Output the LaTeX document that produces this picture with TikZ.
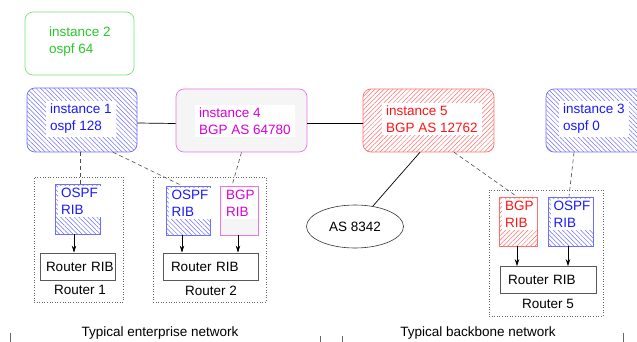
\documentclass[tikz,border=0pt]{standalone}
\usepackage{fontspec}
\setmainfont{Liberation Sans}
\usetikzlibrary{patterns.meta,arrows.meta,shapes.geometric}
\definecolor{blueT}{RGB}{25,25,255}
\definecolor{blueB}{RGB}{110,110,255}
\definecolor{greenT}{RGB}{40,200,40}
\definecolor{greenB}{RGB}{120,225,120}
\definecolor{magT}{RGB}{215,0,215}
\definecolor{magB}{RGB}{230,120,230}
\definecolor{redT}{RGB}{255,20,20}
\definecolor{redB}{RGB}{255,110,110}
\definecolor{lgray}{RGB}{245,245,245}
\newcommand{\fs}{\fontsize{13.5}{17}\selectfont}
\tikzset{
  inst/.style={draw, rounded corners=8pt, line width=0.7pt, inner sep=0pt},
  bluehatch/.style={pattern={Lines[angle=-45,distance=3.2pt,line width=0.5pt]}, pattern color=blueB},
  redhatch/.style={pattern={Lines[angle=45,distance=3.2pt,line width=0.5pt]}, pattern color=redB},
  txt/.style={fill=white, inner xsep=4pt, inner ysep=3pt, align=left, font=\fs, anchor=west},
  ribtxt/.style={fill=white, inner xsep=3pt, inner ysep=2pt, align=left, font=\fs, anchor=north west},
  rib/.style={draw, line width=0.7pt, inner sep=0pt},
  rrib/.style={draw=black!65, line width=0.8pt, fill=white, inner sep=0pt, font=\fs},
  grp/.style={draw=black!60, dotted, line width=0.6pt, inner sep=0pt},
  dashline/.style={draw=black!70, dash pattern=on 4pt off 3pt, line width=0.6pt},
  arr/.style={-{Stealth[length=7pt,width=4.5pt]}, line width=0.6pt},
  lbl/.style={font=\fs, inner sep=0pt},
  tick/.style={draw=black!60, line width=0.5pt}
}
\begin{document}
\begin{tikzpicture}[x=1pt,y=-1pt]
\clip (0,0) rectangle (637,342);
\useasboundingbox (0,0) rectangle (637,342);
% instances
\node[inst, draw=greenB, minimum width=109pt, minimum height=63pt] (i2) at (79.5,43.5) {};
\node[lbl, align=left, anchor=west, text=greenT] (t2) at (49,42) {instance 2\\ospf 64};

\node[inst, draw=blueB, bluehatch, minimum width=110pt, minimum height=64pt] (i1) at (82,120) {};
\node[txt, text=blueT] (t1) at (46,119) {instance 1\\ospf 128};

\node[inst, draw=magB, fill=lgray, minimum width=131pt, minimum height=63pt] (i4) at (241.5,120.5) {};
\node[txt, text=magT] (t4) at (195,121) {instance 4\\BGP AS 64780};

\node[inst, draw=redB, redhatch, minimum width=131pt, minimum height=63pt] (i5) at (428.5,120.5) {};
\node[txt, text=redT] (t5) at (382,119) {instance 5\\BGP AS 12762};

\node[inst, draw=blueB, bluehatch, minimum width=131pt, minimum height=63pt] (i3) at (611.5,120.5) {};
\node[txt, text=blueT] (t3) at (559,119) {instance 3\\ospf 0};

\node[ellipse, draw=black!80, line width=0.6pt, minimum width=97pt, minimum height=43pt, inner sep=0pt, font=\fs] (as) at (355,226.5) {AS 8342};

% router groups
\node[grp, minimum width=89pt, minimum height=125pt] (g1) at (78.5,239.5) {};
\node[grp, minimum width=113pt, minimum height=125pt] (g2) at (209.5,239.5) {};
\node[grp, minimum width=114pt, minimum height=126pt] (g5) at (546,253) {};

% RIBs
\node[rib, draw=blueB, bluehatch, minimum width=45pt, minimum height=50pt] (o1) at (77.5,209) {};
\node[ribtxt, text=blueT] (to1) at (58,186) {OSPF\\RIB};
\node[rib, draw=blueB, bluehatch, minimum width=44pt, minimum height=49pt] (o2) at (188,210.5) {};
\node[ribtxt, text=blueT] (to2) at (168.5,188) {OSPF\\RIB};
\node[rib, draw=magB, fill=lgray, minimum width=38pt, minimum height=49pt] (b2) at (239,210.5) {};
\node[ribtxt, text=magT] (tb2) at (223,188) {BGP\\RIB};
\node[rib, draw=redB, redhatch, minimum width=38pt, minimum height=49pt] (b5) at (518,221.5) {};
\node[ribtxt, text=redT] (tb5) at (502,199) {BGP\\RIB};
\node[rib, draw=blueB, bluehatch, minimum width=45pt, minimum height=49pt] (o5) at (570.5,221.5) {};
\node[ribtxt, text=blueT] (to5) at (550.5,199) {OSPF\\RIB};

% router RIBs
\node[rrib, minimum width=75pt, minimum height=27pt, text width=75pt, align=left, inner xsep=0pt] (r1) at (77.5,266.5) {\hspace*{6pt}Router RIB};
\node[rrib, minimum width=95pt, minimum height=27pt, text width=95pt, align=left] (r2) at (210.5,266.5) {\hspace*{8pt}Router RIB};
\node[rrib, minimum width=96pt, minimum height=27pt, text width=96pt, align=left] (r5) at (548,280) {\hspace*{8pt}Router RIB};

\node[lbl] (l1) at (80,290) {Router 1};
\node[lbl] (l2) at (211,291) {Router 2};
\node[lbl] (l5) at (548,304) {Router 5};

% connectors
\draw[line width=0.7pt] ([yshift=-3pt]i1.east) -- ([yshift=-3pt]i4.west);
\draw[line width=0.7pt] ([yshift=-3pt]i4.east) -- ([yshift=-3pt]i5.west);
\draw[line width=0.7pt] ([xshift=-8.5pt]i5.south) -- (as);

\draw[dashline] ([xshift=-2pt]i1.south) -- ([xshift=2.5pt]o1.north);
\draw[dashline] ([xshift=31pt]i1.south) -- ([xshift=-6pt]o2.north);
\draw[dashline] (i4.south) -- ([xshift=-7pt]b2.north);
\draw[dashline] ([xshift=25.5pt]i5.south) -- ([xshift=-1pt]b5.north);
\draw[dashline] ([xshift=-37.5pt]i3.south) -- ([xshift=-1.5pt]o5.north);

\draw[arr] ([xshift=-3.5pt]o1.south) -- ([xshift=-3.5pt]o1.south |- r1.north);
\draw[arr] ([xshift=-6pt]o2.south) -- ([xshift=-6pt]o2.south |- r2.north);
\draw[arr] ([xshift=-1pt]b2.south) -- ([xshift=-1pt]b2.south |- r2.north);
\draw[arr] ([xshift=-1pt]b5.south) -- ([xshift=-1pt]b5.south |- r5.north);
\draw[arr] ([xshift=-2.5pt]o5.south) -- ([xshift=-2.5pt]o5.south |- r5.north);

% bottom labels
\node[lbl] (ent) at (160,333) {Typical enterprise network};
\node[lbl] (bb) at (478,333) {Typical backbone network};
\coordinate (k1a) at (10,333); \coordinate (k1b) at (10,342);
\coordinate (k2a) at (320,336); \coordinate (k2b) at (320,342);
\coordinate (k3a) at (342,336); \coordinate (k3b) at (342,342);
\coordinate (k4a) at (623,333); \coordinate (k4b) at (623,342);
\draw[tick] (k1a) -- (k1b);
\draw[tick] (k2a) -- (k2b);
\draw[tick] (k3a) -- (k3b);
\draw[tick] (k4a) -- (k4b);
\end{tikzpicture}
\end{document}
